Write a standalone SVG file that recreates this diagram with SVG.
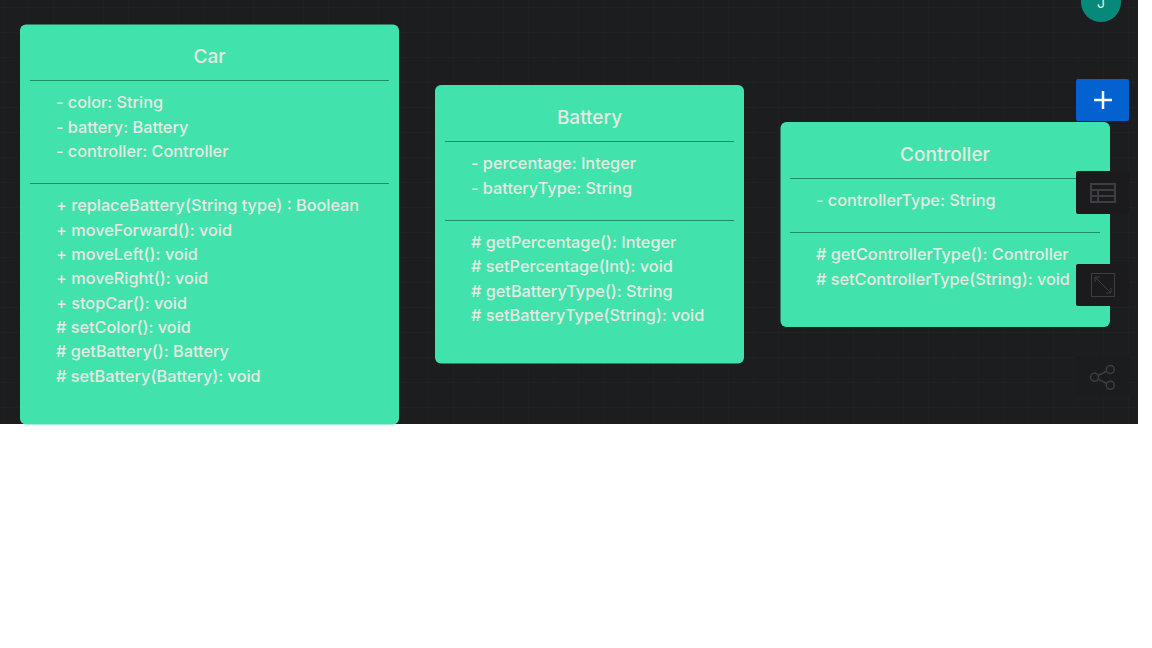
<svg xmlns="http://www.w3.org/2000/svg" width="1152" height="648" viewBox="0 0 1152 648">
<style>
.box{fill:#42e2ad}
.div{stroke:#1f8f62;stroke-width:1}
text{font-family:Inter,"Noto Sans","Liberation Sans",sans-serif;fill:#e4eae2;font-size:16.27px;font-weight:500}
.title{font-size:19px;text-anchor:middle;font-weight:500}
.btn{fill:#1b1b1e}
.ic{fill:none;stroke:#3d3e44;stroke-width:1.500}
.grid{stroke:#1f2022;stroke-width:1}
</style>
<defs>
<pattern id="cells" width="25" height="25" patternUnits="userSpaceOnUse" x="3" y="7">
<path class="grid" d="M0.500 0V25M0 0.500H25" fill="none"/>
</pattern>
</defs>
<rect x="0" y="0" width="1152" height="648" fill="#ffffff"/>
<rect id="canvas" x="0" y="0" width="1138" height="424" fill="#1c1d1f"/>
<rect id="grid" x="0" y="0" width="1138" height="424" fill="url(#cells)"/>
<g id="avatar"><circle cx="1101" cy="2" r="20" fill="#07897a"/><text x="1101" y="8" text-anchor="middle" style="font-size:14px;font-weight:400">J</text></g>
<g id="car">
<rect class="box" x="20" y="24.500" width="379" height="400" rx="6"/>
<text class="title" x="209.500" y="62.500">Car</text>
<path class="div" d="M30 80.500H389M30 183.500H389"/>
<text x="56" y="108">- color: String</text>
<text x="56" y="133">- battery: Battery</text>
<text x="56" y="157">- controller: Controller</text>
<text x="56" y="211">+ replaceBattery(String type) : Boolean</text>
<text x="56" y="236">+ moveForward(): void</text>
<text x="56" y="260">+ moveLeft(): void</text>
<text x="56" y="284">+ moveRight(): void</text>
<text x="56" y="309">+ stopCar(): void</text>
<text x="56" y="333"># setColor(): void</text>
<text x="56" y="357"># getBattery(): Battery</text>
<text x="56" y="382"># setBattery(Battery): void</text>
</g>
<g id="battery">
<rect class="box" x="435" y="85" width="309" height="278.500" rx="6"/>
<text class="title" x="589.500" y="123.500">Battery</text>
<path class="div" d="M445 141.500H734M445 220.500H734"/>
<text x="471" y="169">- percentage: Integer</text>
<text x="471" y="194">- batteryType: String</text>
<text x="471" y="248"># getPercentage(): Integer</text>
<text x="471" y="272"># setPercentage(Int): void</text>
<text x="471" y="297"># getBatteryType(): String</text>
<text x="471" y="321"># setBatteryType(String): void</text>
</g>
<g id="controller">
<rect class="box" x="780.500" y="122" width="329.500" height="205" rx="6"/>
<text class="title" x="945" y="160.500">Controller</text>
<path class="div" d="M790 178.500H1100M790 232.500H1100"/>
<text x="816" y="206">- controllerType: String</text>
<text x="816" y="260"># getControllerType(): Controller</text>
<text x="816" y="285"># setControllerType(String): void</text>
</g>
<g id="add"><rect x="1076" y="79" width="53" height="42" rx="2" fill="#0361d0"/><path d="M1094 100H1112M1103 91V109" stroke="#ffffff" stroke-width="2.500" fill="none"/></g>
<g id="table"><rect class="btn" x="1076" y="171" width="53" height="43" rx="2"/><path class="ic" style="stroke-width:2" d="M1091 184H1115V202H1091ZM1091 190H1115M1091 196H1115M1098 190V202"/></g>
<g id="expand"><rect class="btn" x="1076" y="264" width="53" height="42" rx="2"/><rect class="ic" style="stroke-width:1" x="1091.500" y="273.500" width="23" height="23"/><path class="ic" style="stroke-width:1" d="M1095 277L1111 293M1095 277h5M1095 277v5M1111 293h-5M1111 293v-5"/></g>
<g id="share"><rect x="1076" y="356" width="53" height="39" rx="2" fill="#1b1c1e"/><circle class="ic" cx="1110.300" cy="369.500" r="4"/><circle class="ic" cx="1094.500" cy="377.300" r="4"/><circle class="ic" cx="1110.300" cy="385.300" r="4"/><path class="ic" d="M1098 375.500L1106.800 371.300M1098 379.100L1106.800 383.500"/></g>
</svg>
